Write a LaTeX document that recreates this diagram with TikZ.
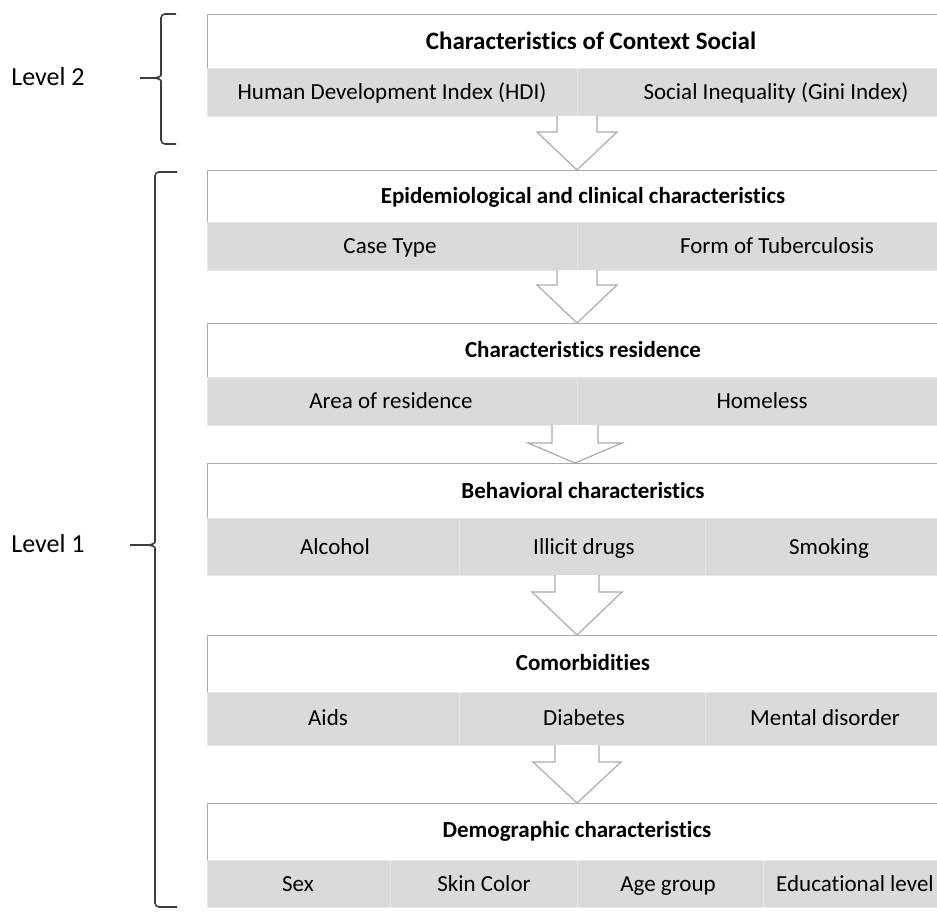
\documentclass[tikz,border=0pt]{standalone}
\usepackage{fontspec}
\setmainfont[Ligatures={NoCommon}]{Carlito}
\usepackage{tikz}

\definecolor{boxline}{HTML}{ABABAB}
\definecolor{rowgray}{HTML}{DADADA}
\definecolor{rowline}{HTML}{E6E6E6}
\definecolor{bracecol}{HTML}{3C3C3C}

% block arrow: {x}{stem half}{head half}{y top}{y head}{y tip}
\newcommand{\blockarrow}[6]{%
    \draw [bigarrow] ({#1-#2},#4) -- ({#1-#2},#5) -- ({#1-#3},#5) -- (#1,#6)
        -- ({#1+#3},#5) -- ({#1+#2},#5) -- ({#1+#2},#4);
}
% level brace: {x ends}{x line}{x tip}{y top}{y tip}{y bottom}
\newcommand{\levelbrace}[6]{%
    \draw [level] (#1,#4) -- (#2,#4) -- ({#2},{#5-7}) [sharp corners]
        .. controls (#2,{#5-2}) and ({#2-3},#5) .. ({#2-6},#5) -- (#3,#5);
    \draw [level] ({#2-6},#5) .. controls ({#2-3},#5) and (#2,{#5+2}) .. (#2,{#5+7})
        [rounded corners=2pt] -- (#2,#6) -- (#1,#6);
}

\begin{document}
\begin{tikzpicture}[
    % GLOBAL CFG
    x=0.5pt, y=-0.5pt,
    font=\fontsize{11.5}{13}\selectfont,
    % Styles
    head/.style={% white title part of a table
        rectangle,
        draw=boxline,
        fill=white,
        anchor=north west,
        minimum width=376.5pt,
        inner sep=0pt,
        },
    cell/.style={% gray row cells
        rectangle,
        draw=rowline,
        fill=rowgray,
        anchor=north west,
        inner sep=0pt,
        },
    txt/.style={% plain cell text
        text height=9.5pt,
        text depth=2.2pt,
        },
    title/.style={% bold title text
        txt,
        font=\bfseries\fontsize{11.5}{13}\selectfont,
        },
    bigarrow/.style={% hollow arrows between tables
        draw=boxline,
        fill=white,
        line width=0.6pt,
        line join=miter,
        },
    level/.style={% braces at the left
        draw=bracecol,
        line width=0.8pt,
        rounded corners=2pt,
        },
    lvtext/.style={%
        txt,
        font=\fontsize{13}{15}\selectfont,
        },
    ]

    \useasboundingbox (0,0) rectangle (937,911);

    % Level 2 : context
    \node [head, minimum height=27pt] (hctx) at (207,14) {};
    \node [title, font=\bfseries\fontsize{12.5}{14}\selectfont] (tctx) at (591,42) {Characteristics of Context Social};
    \node [cell, minimum width=185pt, minimum height=24pt] (cHDI) at (207,68) {};
    \node [cell, minimum width=191.5pt, minimum height=24pt] (cGini) at (577,68) {};
    \node [txt] (tHDI) at (392,92) {Human Development Index (HDI)};
    \node [txt] (tGini) at (776,92) {Social Inequality (Gini Index)};

    % Epidemiological
    \node [head, minimum height=26pt] (hepi) at (207,170) {};
    \node [title] (tepi) at (583,196) {Epidemiological and clinical characteristics};
    \node [cell, minimum width=185pt, minimum height=24pt] (cCase) at (207,222) {};
    \node [cell, minimum width=191.5pt, minimum height=24pt] (cForm) at (577,222) {};
    \node [txt] (tCase) at (390,246) {Case Type};
    \node [txt] (tForm) at (777,246) {Form of Tuberculosis};

    % Residence
    \node [head, minimum height=27pt] (hres) at (207,323) {};
    \node [title] (tres) at (583,350) {Characteristics residence};
    \node [cell, minimum width=185pt, minimum height=24pt] (cArea) at (207,377) {};
    \node [cell, minimum width=191.5pt, minimum height=24pt] (cHome) at (577,377) {};
    \node [txt] (tArea) at (391,401) {Area of residence};
    \node [txt] (tHome) at (762,401) {Homeless};

    % Behavioral
    \node [head, minimum height=27.5pt] (hbeh) at (207,463) {};
    \node [title] (tbeh) at (583,491) {Behavioral characteristics};
    \node [cell, minimum width=126pt, minimum height=28.5pt] (cAlc) at (207,518) {};
    \node [cell, minimum width=123pt, minimum height=28.5pt] (cDrug) at (459,518) {};
    \node [cell, minimum width=127.5pt, minimum height=28.5pt] (cSmok) at (705,518) {};
    \node [txt] (tAlc) at (335,547) {Alcohol};
    \node [txt] (tDrug) at (584,547) {Illicit drugs};
    \node [txt] (tSmok) at (829,547) {Smoking};

    % Comorbidities
    \node [head, minimum height=28.5pt] (hcom) at (207,635) {};
    \node [title] (tcom) at (583,663) {Comorbidities};
    \node [cell, minimum width=126pt, minimum height=26.5pt] (cAids) at (207,692) {};
    \node [cell, minimum width=123pt, minimum height=26.5pt] (cDiab) at (459,692) {};
    \node [cell, minimum width=127.5pt, minimum height=26.5pt] (cMent) at (705,692) {};
    \node [txt] (tAids) at (328,718) {Aids};
    \node [txt] (tDiab) at (584,718) {Diabetes};
    \node [txt] (tMent) at (825,718) {Mental disorder};

    % Demographic
    \node [head, minimum height=28.5pt] (hdem) at (207,803) {};
    \node [title] (tdem) at (577,830) {Demographic characteristics};
    \node [cell, minimum width=91.5pt, minimum height=23.5pt] (cSex) at (207,860) {};
    \node [cell, minimum width=93.5pt, minimum height=23.5pt] (cSkin) at (390,860) {};
    \node [cell, minimum width=93pt, minimum height=23.5pt] (cAge) at (577,860) {};
    \node [cell, minimum width=98.5pt, minimum height=23.5pt] (cEdu) at (763,860) {};
    \node [txt] (tSex) at (298,884) {Sex};
    \node [txt] (tSkin) at (484,884) {Skin Color};
    \node [txt] (tAge) at (668,884) {Age group};
    \node [txt] (tEdu) at (855,884) {Educational level};

    % arrows between the tables
    \blockarrow{577}{20}{40}{116}{132}{170}
    \blockarrow{577}{20}{40}{270}{285}{323}
    \blockarrow{575}{23}{47}{425}{443}{463}
    \blockarrow{577}{22}{45}{575}{592}{635}
    \blockarrow{577}{22}{44}{745}{762}{803}

    % braces and levels
    \levelbrace{176}{161}{140}{14}{78}{144}
    \node [lvtext] (lv2) at (48,78) {Level 2};
    \levelbrace{177}{155}{130}{172}{545}{907}
    \node [lvtext] (lv1) at (48,545) {Level 1};

\end{tikzpicture}
\end{document}
